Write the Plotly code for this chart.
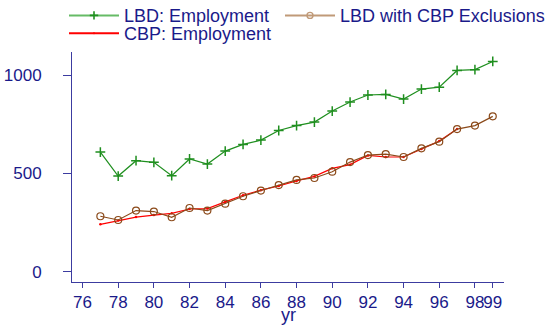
import plotly.graph_objects as go

years = list(range(77, 100))
lbd_emp = [609, 487, 565, 557, 489, 574, 548, 614, 648, 670, 719, 744, 762, 818, 864, 900, 903, 879, 930, 940, 1025, 1029, 1071]
lbd_excl = [282, 263, 311, 306, 277, 324, 311, 346, 384, 413, 441, 467, 477, 509, 558, 594, 599, 584, 628, 662, 726, 744, 791]
cbp_years = list(range(77, 98))
cbp_emp = [241, 261, 278, 288, 297, 319, 321, 355, 389, 415, 436, 462, 485, 526, 545, 592, 584, 584, 625, 665, 726]

x_ticks = [76, 78, 80, 82, 84, 86, 88, 90, 92, 94, 96, 98, 99]
x_ticklabels = [str(v) for v in x_ticks]
y_ticks = [0, 500, 1000]
x_title = "yr"

NAVY = "#1a1a8a"
GREEN = "#1f8f1f"
BROWN = "#8b4a1a"
RED = "#ff0000"
FONT = "Liberation Sans, Arial, sans-serif"

fig = go.Figure()
fig.add_trace(go.Scatter(x=years, y=lbd_emp, mode="lines+markers", showlegend=False,
                         line=dict(color=GREEN, width=1.2),
                         marker=dict(symbol="cross-thin", size=7, line=dict(color=GREEN, width=1.5))))
fig.add_trace(go.Scatter(x=cbp_years, y=cbp_emp, mode="lines+markers", showlegend=False,
                         line=dict(color=RED, width=1.2),
                         marker=dict(symbol="circle", size=2.5, color=RED)))
fig.add_trace(go.Scatter(x=years, y=lbd_excl, mode="lines+markers", showlegend=False,
                         line=dict(color=BROWN, width=1.2),
                         marker=dict(symbol="circle-open", size=7, line=dict(color=BROWN, width=1.2))))

# legend-only entries
fig.add_trace(go.Scatter(x=[None], y=[None], mode="lines+markers", name="LBD: Employment",
                         legend="legend",
                         line=dict(color="#66bb66", width=2),
                         marker=dict(symbol="cross-thin", size=6, line=dict(color=GREEN, width=1.6))))
fig.add_trace(go.Scatter(x=[None], y=[None], mode="lines+markers", name="LBD with CBP Exclusions",
                         legend="legend2",
                         line=dict(color="#c09a78", width=2),
                         marker=dict(symbol="circle-open", size=6, line=dict(color=BROWN, width=1.4))))
fig.add_trace(go.Scatter(x=[None], y=[None], mode="lines+markers", name="CBP: Employment",
                         legend="legend3",
                         line=dict(color=RED, width=2),
                         marker=dict(symbol="circle", size=2, color=RED)))

leg_common = dict(orientation="h", xref="container", yref="container", xanchor="left", yanchor="middle",
                  font=dict(family=FONT, size=18, color=NAVY), bgcolor="rgba(0,0,0,0)",
                  itemwidth=50, borderwidth=0)

fig.update_layout(
    width=557, height=327,
    margin=dict(l=72, r=53, t=52, b=45, autoexpand=False),
    paper_bgcolor="white", plot_bgcolor="white",
    font=dict(family=FONT, size=17, color=NAVY),
    legend=dict(x=64/557, y=1 - 15.7/327, **leg_common),
    legend2=dict(x=280/557, y=1 - 15.7/327, **leg_common),
    legend3=dict(x=64/557, y=1 - 33.5/327, **leg_common),
    xaxis=dict(range=[75.41, 99.63], tickmode="array", tickvals=x_ticks, ticktext=x_ticklabels,
               tickangle=0, automargin=False,
               showline=True, linecolor="#3c3ca0", linewidth=1, ticks="outside", ticklen=5,
               tickcolor="#3c3ca0", showgrid=False, zeroline=False,
               tickfont=dict(family=FONT, size=17, color=NAVY)),
    yaxis=dict(range=[-53, 1119], tickmode="array", tickvals=y_ticks, automargin=False,
               showline=True, linecolor="#3c3ca0", linewidth=1, ticks="outside", ticklen=8,
               tickcolor="#3c3ca0", showgrid=False, zeroline=False, ticklabelstandoff=18,
               tickfont=dict(family=FONT, size=17, color=NAVY)),
    annotations=[dict(text=x_title, xref="paper", yref="paper", x=0.5, y=-0.092,
                      xanchor="center", yanchor="top", showarrow=False,
                      font=dict(family=FONT, size=18, color=NAVY))],
)

fig.write_html("out.html")
